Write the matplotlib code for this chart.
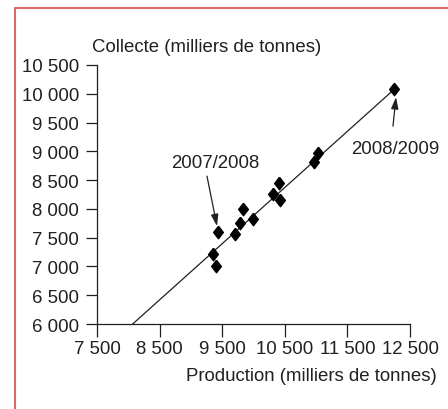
import matplotlib.pyplot as plt
from matplotlib.lines import Line2D
import numpy as np

# production vs collecte (milliers de tonnes)
production = [9438, 9358, 9396, 9698, 9784, 9837, 9997, 10305, 10412, 10428, 10966, 11035, 12249]
collecte = [7602, 7215, 7012, 7563, 7748, 7997, 7823, 8257, 8443, 8153, 8807, 8968, 10080]

# regression line end points
fit_x = [8070, 12250]
fit_y = [6000, 10080]

xticks = [7500, 8500, 9500, 10500, 11500, 12500]
yticks = [6000, 6500, 7000, 7500, 8000, 8500, 9000, 9500, 10000, 10500]

def fmt(v):
    return '{:,}'.format(v).replace(',', ' ')

plt.rcParams['font.family'] = ['Liberation Sans', 'DejaVu Sans']
txt = '#231f20'
fs = 13.4

W, H = 448, 410
fig = plt.figure(figsize=(W / 100, H / 100), dpi=100)
ax = fig.add_axes([97 / W, (H - 325) / H, (410 - 97) / W, (325 - 66) / H])

ax.plot(fit_x, fit_y, color=txt, lw=0.9, zorder=2)
diamond = [(0, 1), (0.78, 0), (0, -1), (-0.78, 0), (0, 1)]
ax.plot(production, collecte, ls='none', marker=diamond, ms=9, color='black', zorder=3)

ax.set_xlim(7500, 12500)
ax.set_ylim(6000, 10500)
ax.set_xticks(xticks)
ax.set_xticklabels([fmt(v) for v in xticks])
ax.set_yticks(yticks)
ax.set_yticklabels([fmt(v) for v in yticks])
for s in ['top', 'right']:
    ax.spines[s].set_visible(False)
for s in ['left', 'bottom']:
    ax.spines[s].set_linewidth(0.9)
    ax.spines[s].set_color(txt)
ax.tick_params(axis='y', length=8, width=0.9, pad=5, labelsize=fs, colors=txt)
ax.tick_params(axis='x', length=9, width=0.9, pad=2.5, labelsize=fs, colors=txt)

arrow = dict(arrowstyle='-|>,head_length=0.7,head_width=0.22', color=txt, lw=0.9, shrinkA=0, shrinkB=0)
ax.annotate('', xy=(9417, 7701), xytext=(9257, 8569), arrowprops=arrow)
ax.text(9385, 8812, '2007/2008', ha='center', va='center', fontsize=fs, color=txt)
ax.annotate('', xy=(12276, 9941), xytext=(12228, 9437), arrowprops=arrow)
ax.text(12260, 9056, '2008/2009', ha='center', va='center', fontsize=fs, color=txt)

fig.text(92 / W, 1 - 48 / H, 'Collecte (milliers de tonnes)', ha='left', va='center',
         fontsize=fs, color=txt)
fig.text(437 / W, 1 - 377 / H, 'Production (milliers de tonnes)', ha='right', va='center',
         fontsize=fs, color=txt)

# red frame (top and left)
fx = 14.5 / W
fy = 1 - 9 / H
fig.add_artist(Line2D([fx, fx, 1], [0, fy, fy], transform=fig.transFigure,
                      color='#d9686a', lw=1.5))

fig.savefig('out.png', dpi=100)
